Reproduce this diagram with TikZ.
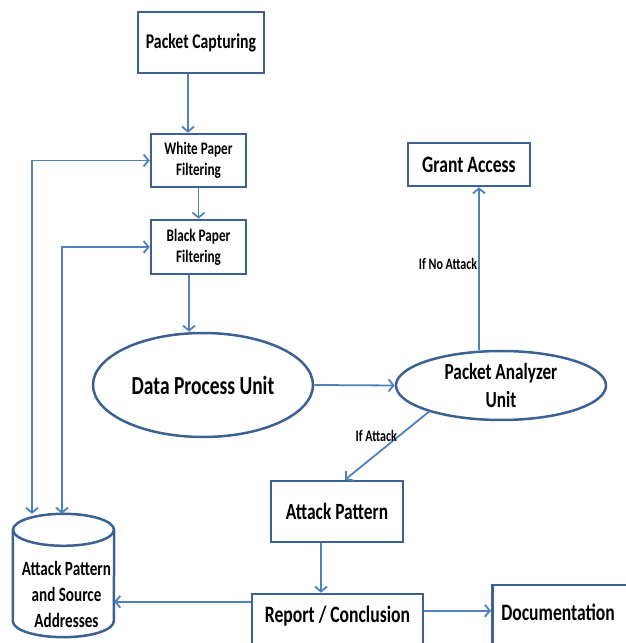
\documentclass[tikz,border=0pt]{standalone}
\usepackage{fontspec}
\setmainfont{Carlito}[FakeStretch=0.75]
\usepackage{tikz}
\usetikzlibrary{shapes.geometric, arrows.meta}

\definecolor{boxblue}{HTML}{3B6292}
\definecolor{lineblue}{HTML}{4F81BD}
\newcommand{\fs}[2]{\fontsize{#1}{#2}\selectfont}

\begin{document}
\begin{tikzpicture}[x=1pt, y=1pt, >={Straight Barb[length=5pt, width=12pt]}]
        \tikzstyle{boxline}=[draw=boxblue, line width=2.5pt]
        \tikzstyle{box}=[boxline, align=center, inner sep=2pt]
        \tikzstyle{blob}=[boxline, ellipse, align=center, inner sep=0pt]
        \tikzstyle{flow}=[draw=lineblue, line width=1.8pt, ->]
        \tikzstyle{tag}=[inner sep=1pt, font=\bfseries\fs{16}{18}]

        \clip (0,0) rectangle (626,643);

        \node   (capture)  [box, minimum width=126pt, minimum height=61pt, font=\bfseries\fs{21}{24}] at (201,600.5) {Packet Capturing};
        \node   (white)    [box, minimum width=95pt, minimum height=53pt, font=\bfseries\fs{17.6}{21}] at (198.5,482.5) {White Paper\\Filtering};
        \node   (black)    [box, minimum width=95pt, minimum height=54pt, font=\bfseries\fs{17.6}{21}] at (198.5,396) {Black Paper\\Filtering};
        \node   (dpu)      [blob, minimum width=220pt, minimum height=104pt, font=\bfseries\fs{26}{28}] at (203,258) {Data Process Unit};
        \node   (pau)      [blob, minimum width=210pt, minimum height=69pt, font=\bfseries\fs{23}{28}] at (501,257.5) {Packet Analyzer\\Unit};
        \node   (grant)    [box, minimum width=122pt, minimum height=43pt, font=\bfseries\fs{23.5}{26}] at (469,478.5) {Grant Access};
        \node   (attack)   [box, minimum width=132pt, minimum height=61pt, font=\bfseries\fs{23.2}{26}] at (337,131.5) {Attack Pattern};
        \node   (report)   [box, anchor=base, minimum width=171pt, text height=27pt, text depth=40pt, font=\bfseries\fs{23.5}{26}] at (337.5,20) {Report / Conclusion};
        \node   (doc)      [box, anchor=base west, text width=140pt, inner xsep=9pt, align=left, text height=33pt, text depth=40pt, font=\bfseries\fs{23.5}{26}] at (491,23) {Documentation};

        \node   (store)    [minimum width=101pt, minimum height=123pt, inner sep=0pt] at (63.5,67.5) {};
        \draw[boxline] ([yshift=-16pt]store.north) ellipse [x radius=50.5pt, y radius=16pt];
        \draw[boxline] ([yshift=-16pt]store.north west) -- ([yshift=16pt]store.south west)
            arc [start angle=180, end angle=360, x radius=50.5pt, y radius=16pt] -- ([yshift=-16pt]store.north east);
        \node   (storetext) [align=center, inner sep=0pt, font=\bfseries\fs{20.2}{26}] at ([xshift=3pt, yshift=-18.5pt]store.center) {Attack Pattern\\and Source\\Addresses};

        \draw[flow] ([xshift=-13pt]capture.south) -- ([xshift=-13pt]capture.south |- white.north);
        \draw[flow] (white) -- (black);
        \draw[flow] ([xshift=-9.5pt]black.south) -- ([xshift=-9.5pt]black.south |- dpu.north);
        \draw[flow] (dpu.east) -- (pau.west);
        \draw[flow] ([xshift=-22pt]pau.north) -- ([xshift=-22pt]pau.north |- grant.south)
            node[tag, pos=0.53, left] {If No Attack};
        \draw[flow] (pau.200) -- ([xshift=8pt]attack.north)
            node[tag, pos=0.36, left] {If Attack};
        \draw[flow] ([xshift=-16pt]attack.south) -- ([xshift=-16pt]attack.south |- report.north);
        \draw[flow] ([yshift=-9pt]report.north west) -- ([yshift=-9pt]report.north west -| store.east);
        \draw[flow] ([yshift=-18pt]report.north east) -- ([yshift=-18pt]report.north east -| doc.west);
        \draw[flow, <->] ([xshift=-31.5pt]store.north) |- (white.west);
        \draw[flow, <->] ([xshift=-1.5pt]store.north) |- (black.west);

    \end{tikzpicture}
\end{document}
